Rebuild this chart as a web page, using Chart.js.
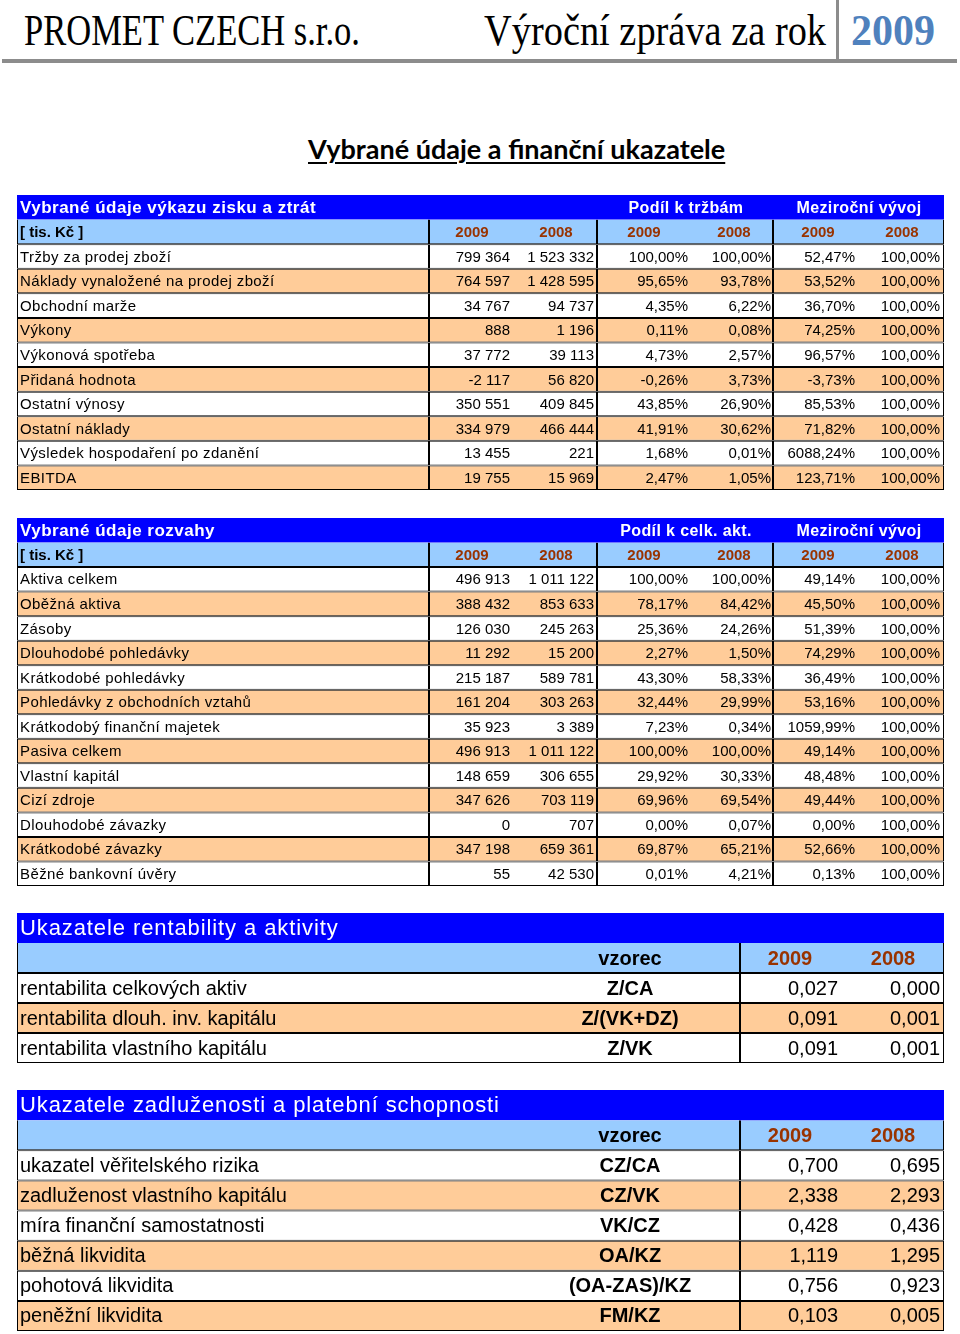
<!DOCTYPE html>
<html lang="cs">
  <head>
    <meta charset="UTF-8" />
    <meta name="viewport" content="width=device-width, initial-scale=1.0" />
    <title>Vybrané údaje a finanční ukazatele</title>
    <script src="https://cdn.jsdelivr.net/npm/chart.js"></script>
    <style>
      body {
        margin: 0;
        width: 960px;
        height: 1334px;
        position: relative;
        overflow: hidden;
        background: #fff;
      }
      .abs {
        position: absolute;
        white-space: nowrap;
        transform-origin: left top;
      }
      .serif {
        font-family: "Liberation Serif", "DejaVu Serif", serif;
        font-size: 45px;
        line-height: 45px;
        color: #000;
      }
      #pageTitle {
        font-family: Lato, "Liberation Sans", sans-serif;
        font-weight: bold;
        font-size: 26px;
        line-height: 30px;
        text-decoration: underline;
        text-decoration-thickness: 2px;
        text-underline-offset: 3px;
      }
      .rule {
        position: absolute;
        background: #8c8c8c;
      }
      canvas {
        position: absolute;
      }
    </style>
  </head>
  <body>
    <div id="company" class="abs serif" style="left: 24px; top: 8px">PROMET CZECH s.r.o.</div>
    <div id="report" class="abs serif" style="left: 484px; top: 8px">Výroční zpráva za rok</div>
    <div id="year" class="abs serif" style="left: 851px; top: 8px; color: #4f81bd; font-weight: bold">2009</div>
    <div class="rule" style="left: 836px; top: 0; width: 3px; height: 60px"></div>
    <div class="rule" style="left: 2px; top: 59px; width: 955px; height: 4px"></div>
    <div id="pageTitle" class="abs" style="left: 308px; top: 134px">Vybrané údaje a finanční ukazatele</div>

    <canvas id="t1" width="927" height="295" style="left: 17px; top: 195px"></canvas>
    <canvas id="t2" width="927" height="368" style="left: 17px; top: 518px"></canvas>
    <canvas id="t3" width="927" height="150" style="left: 17px; top: 913px"></canvas>
    <canvas id="t4" width="927" height="241" style="left: 17px; top: 1090px"></canvas>
  </body>
  <script>
    // ---- data ----
    const years = ["2009", "2008"];
    const unitLabel = "[ tis. Kč ]";
    const trendTitle = "Meziroční vývoj";
    const formulaTitle = "vzorec";

    // výkaz zisku a ztrát
    const vzzTitle = "Vybrané údaje výkazu zisku a ztrát";
    const vzzShareTitle = "Podíl k tržbám";
    const vzzItems = [
      "Tržby za prodej zboží",
      "Náklady vynaložené na prodej zboží",
      "Obchodní marže",
      "Výkony",
      "Výkonová spotřeba",
      "Přidaná hodnota",
      "Ostatní výnosy",
      "Ostatní náklady",
      "Výsledek hospodaření po zdanění",
      "EBITDA",
    ];
    const vzz2009 = [799364, 764597, 34767, 888, 37772, -2117, 350551, 334979, 13455, 19755];
    const vzz2008 = [1523332, 1428595, 94737, 1196, 39113, 56820, 409845, 466444, 221, 15969];
    const vzzShare2009 = [100.0, 95.65, 4.35, 0.11, 4.73, -0.26, 43.85, 41.91, 1.68, 2.47];
    const vzzShare2008 = [100.0, 93.78, 6.22, 0.08, 2.57, 3.73, 26.9, 30.62, 0.01, 1.05];
    const vzzTrend2009 = [52.47, 53.52, 36.7, 74.25, 96.57, -3.73, 85.53, 71.82, 6088.24, 123.71];
    const vzzTrend2008 = [100, 100, 100, 100, 100, 100, 100, 100, 100, 100];

    // rozvaha
    const balTitle = "Vybrané údaje rozvahy";
    const balShareTitle = "Podíl k celk. akt.";
    const balItems = [
      "Aktiva celkem",
      "Oběžná aktiva",
      "Zásoby",
      "Dlouhodobé pohledávky",
      "Krátkodobé pohledávky",
      "Pohledávky z obchodních vztahů",
      "Krátkodobý finanční majetek",
      "Pasiva celkem",
      "Vlastní kapitál",
      "Cizí zdroje",
      "Dlouhodobé závazky",
      "Krátkodobé závazky",
      "Běžné bankovní úvěry",
    ];
    const bal2009 = [496913, 388432, 126030, 11292, 215187, 161204, 35923, 496913, 148659, 347626, 0, 347198, 55];
    const bal2008 = [1011122, 853633, 245263, 15200, 589781, 303263, 3389, 1011122, 306655, 703119, 707, 659361, 42530];
    const balShare2009 = [100.0, 78.17, 25.36, 2.27, 43.3, 32.44, 7.23, 100.0, 29.92, 69.96, 0.0, 69.87, 0.01];
    const balShare2008 = [100.0, 84.42, 24.26, 1.5, 58.33, 29.99, 0.34, 100.0, 30.33, 69.54, 0.07, 65.21, 4.21];
    const balTrend2009 = [49.14, 45.5, 51.39, 74.29, 36.49, 53.16, 1059.99, 49.14, 48.48, 49.44, 0.0, 52.66, 0.13];
    const balTrend2008 = [100, 100, 100, 100, 100, 100, 100, 100, 100, 100, 100, 100, 100];

    // rentabilita
    const rentTitle = "Ukazatele rentability a aktivity";
    const rentItems = ["rentabilita celkových aktiv", "rentabilita dlouh. inv. kapitálu", "rentabilita vlastního kapitálu"];
    const rentFormulas = ["Z/CA", "Z/(VK+DZ)", "Z/VK"];
    const rent2009 = [0.027, 0.091, 0.091];
    const rent2008 = [0.0, 0.001, 0.001];

    // zadluženost
    const debtTitle = "Ukazatele zadluženosti a platební schopnosti";
    const debtItems = [
      "ukazatel věřitelského rizika",
      "zadluženost vlastního kapitálu",
      "míra finanční samostatnosti",
      "běžná likvidita",
      "pohotová likvidita",
      "peněžní likvidita",
    ];
    const debtFormulas = ["CZ/CA", "CZ/VK", "VK/CZ", "OA/KZ", "(OA-ZAS)/KZ", "FM/KZ"];
    const debt2009 = [0.7, 2.338, 0.428, 1.119, 0.756, 0.103];
    const debt2008 = [0.695, 2.293, 0.436, 1.295, 0.923, 0.005];

    // ---- look ----
    const BLUE = "#0000ff";
    const LIGHT = "#99ccff";
    const ORANGE = "#ffcc99";
    const BROWN = "#993300";
    const SANS = '"Liberation Sans", Arial, sans-serif';

    // column edges / text anchors in table units (px from table left)
    const wideEdges = [0, 412, 580, 756, 927];
    const wideAnchors = { label: 3, v09: 493, v08: 577, s09: 671, s08: 754, t09: 838, t08: 923,
      h09: 455, h08: 539, hs09: 627, hs08: 717, ht09: 801, ht08: 885, share: 669, trend: 842 };
    const ratioEdges = [0, 723, 927];
    const ratioAnchors = { label: 3, formula: 613, v09: 821, v08: 923, h09: 773, h08: 876 };

    const fmtInt = (n) => (n < 0 ? "-" : "") + Math.abs(n).toString().replace(/\B(?=(\d{3})+(?!\d))/g, " ");
    const fmtPct = (p) => p.toFixed(2).replace(".", ",") + "%";
    const fmtRatio = (r) => r.toFixed(3).replace(".", ",");

    const cell = (text, x, align, font, color, ls) => ({ text, x, align, font, color: color || "#000", ls: ls || "0px" });

    function wideRows(title, shareTitle, items, v09, v08, s09, s08, t09, t08) {
      const a = wideAnchors;
      const fTitle = `bold 17px ${SANS}`;
      const fGroup = `bold 16px ${SANS}`;
      const fHead = `bold 15px ${SANS}`;
      const fData = `15px ${SANS}`;
      const rows = [
        { kind: "title", fill: BLUE, cells: [
          cell(title, a.label, "left", fTitle, "#fff", "0.5px"),
          cell(shareTitle, a.share, "center", fGroup, "#fff", "0.4px"),
          cell(trendTitle, a.trend, "center", fGroup, "#fff", "0.4px"),
        ] },
        { kind: "head", fill: LIGHT, cells: [
          cell(unitLabel, a.label, "left", fHead),
          cell(years[0], a.h09, "center", fHead, BROWN),
          cell(years[1], a.h08, "center", fHead, BROWN),
          cell(years[0], a.hs09, "center", fHead, BROWN),
          cell(years[1], a.hs08, "center", fHead, BROWN),
          cell(years[0], a.ht09, "center", fHead, BROWN),
          cell(years[1], a.ht08, "center", fHead, BROWN),
        ] },
      ];
      items.forEach((name, i) => {
        rows.push({ kind: "data", fill: i % 2 ? ORANGE : "#fff", cells: [
          cell(name, a.label, "left", fData, "#000", "0.4px"),
          cell(fmtInt(v09[i]), a.v09, "right", fData),
          cell(fmtInt(v08[i]), a.v08, "right", fData),
          cell(fmtPct(s09[i]), a.s09, "right", fData),
          cell(fmtPct(s08[i]), a.s08, "right", fData),
          cell(fmtPct(t09[i]), a.t09, "right", fData),
          cell(fmtPct(t08[i]), a.t08, "right", fData),
        ] });
      });
      return rows;
    }

    function ratioRows(title, items, formulas, v09, v08) {
      const a = ratioAnchors;
      const fBold = `bold 20px ${SANS}`;
      const fData = `20px ${SANS}`;
      const rows = [
        { kind: "title", fill: BLUE, cells: [cell(title, a.label, "left", `22px ${SANS}`, "#fff", "0.9px")] },
        { kind: "head", fill: LIGHT, cells: [
          cell(formulaTitle, a.formula, "center", fBold),
          cell(years[0], a.h09, "center", fBold, BROWN),
          cell(years[1], a.h08, "center", fBold, BROWN),
        ] },
      ];
      items.forEach((name, i) => {
        rows.push({ kind: "data", fill: i % 2 ? ORANGE : "#fff", cells: [
          cell(name, a.label, "left", fData),
          cell(formulas[i], a.formula, "center", fBold),
          cell(fmtRatio(v09[i]), a.v09, "right", fData),
          cell(fmtRatio(v08[i]), a.v08, "right", fData),
        ] });
      });
      return rows;
    }

    // writes the cell texts at the positions given by the chart scales
    const cellText = (rows) => ({
      id: "cellText",
      afterDatasetsDraw(chart) {
        const { ctx, scales: { x, y } } = chart;
        ctx.save();
        ctx.textBaseline = "middle";
        rows.forEach((row, i) => {
          const cy = y.getPixelForValue(i) + 1;
          row.cells.forEach((c) => {
            ctx.font = c.font;
            ctx.fillStyle = c.color;
            ctx.textAlign = c.align;
            ctx.letterSpacing = c.ls;
            ctx.fillText(c.text, x.getPixelForValue(c.x), cy);
          });
        });
        ctx.restore();
      },
    });

    // every cell is a segment of a stacked horizontal bar
    function drawTable(id, rows, edges) {
      const total = edges[edges.length - 1];
      const widths = edges.slice(1).map((e, i) => e - edges[i]);
      const datasets = widths.map((w, g) => ({
        data: rows.map((r) => (r.kind === "title" ? (g === 0 ? total : 0) : w)),
        backgroundColor: rows.map((r) => r.fill),
        borderColor: "#000",
        borderWidth: (c) => {
          const r = rows[c.dataIndex];
          if (!r || r.kind === "title") return 0;
          if (r.kind === "head") return { top: 0, bottom: 1, left: 1, right: 1 };
          return 1;
        },
        borderSkipped: false,
        inflateAmount: 0,
        barPercentage: 1,
        categoryPercentage: 1,
      }));
      new Chart(document.getElementById(id), {
        type: "bar",
        data: { labels: rows.map((r, i) => String(i)), datasets },
        options: {
          indexAxis: "y",
          responsive: false,
          animation: false,
          events: [],
          layout: { padding: 0 },
          plugins: { legend: { display: false }, tooltip: { enabled: false } },
          scales: {
            x: { type: "linear", stacked: true, min: 0, max: total, display: false },
            y: { stacked: true, display: false },
          },
        },
        plugins: [cellText(rows)],
      });
    }

    drawTable("t1", wideRows(vzzTitle, vzzShareTitle, vzzItems, vzz2009, vzz2008, vzzShare2009, vzzShare2008, vzzTrend2009, vzzTrend2008), wideEdges);
    drawTable("t2", wideRows(balTitle, balShareTitle, balItems, bal2009, bal2008, balShare2009, balShare2008, balTrend2009, balTrend2008), wideEdges);
    drawTable("t3", ratioRows(rentTitle, rentItems, rentFormulas, rent2009, rent2008), ratioEdges);
    drawTable("t4", ratioRows(debtTitle, debtItems, debtFormulas, debt2009, debt2008), ratioEdges);

    // squeeze the heading texts to the widths they have in the report
    const fitWidth = (id, w) => {
      const el = document.getElementById(id);
      el.style.transform = `scaleX(${w / el.offsetWidth})`;
    };
    fitWidth("company", 336);
    fitWidth("report", 342);
    fitWidth("year", 84);
    fitWidth("pageTitle", 417);
  </script>
</html>
